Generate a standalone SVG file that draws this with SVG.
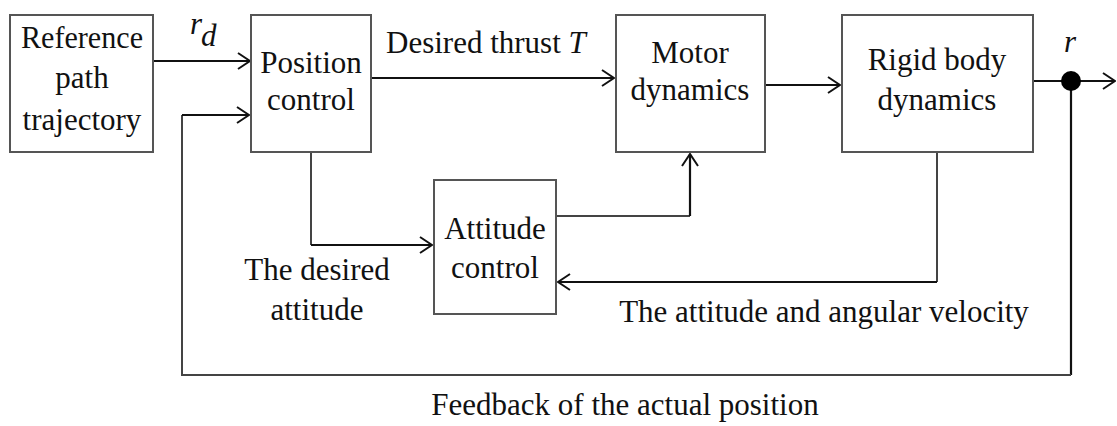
<svg xmlns="http://www.w3.org/2000/svg" width="1117" height="426" viewBox="0 0 1117 426">
<defs>
<style>
.box{fill:#fff;stroke:#555;stroke-width:2}
.t{font-family:"Liberation Serif",serif;font-size:31px;fill:#111;text-anchor:middle}
.l{font-family:"Liberation Serif",serif;font-size:31px;fill:#111}
.c{fill:none;stroke:#111;stroke-width:2.2}
.g{fill:none;stroke:#444;stroke-width:2}
</style>
<marker id="ah" viewBox="0 0 14 18" refX="13" refY="9" markerWidth="14" markerHeight="18" markerUnits="userSpaceOnUse" orient="auto">
<path d="M1,1 L13,9 L1,17" fill="none" stroke="#111" stroke-width="2"/>
</marker>
</defs>
<rect width="1117" height="426" fill="#fff"/>
<g id="connectors">
<path class="c" d="M153,61 H250" marker-end="url(#ah)"/>
<path class="c" d="M371,78 H614" marker-end="url(#ah)"/>
<path class="c" d="M765,85 H840" marker-end="url(#ah)"/>
<path class="c" d="M1033,81 H1115" marker-end="url(#ah)"/>
<path class="g" d="M311,152 V245"/>
<path class="c" d="M311,245 H432" marker-end="url(#ah)"/>
<path class="g" d="M556,216 H690"/>
<path class="c" d="M690,216 V154" marker-end="url(#ah)"/>
<path class="g" d="M937,152 V282"/>
<path class="c" d="M937,282 H558" marker-end="url(#ah)"/>
<path class="c" d="M1071,81 V375"/>
<path class="g" d="M1071,375 H182 V115"/>
<path class="c" d="M182,115 H249" marker-end="url(#ah)"/>
<circle cx="1071" cy="81" r="10" fill="#000"/>
<text class="l" x="190" y="34" font-style="italic">r</text>
<text class="l" x="201" y="46" font-style="italic" font-size="24">d</text>
<text class="l" x="386" y="53">Desired thrust <tspan font-style="italic">T</tspan></text>
<text class="l" x="1064" y="52" font-style="italic">r</text>
<text class="t" x="317" y="280">The desired</text>
<text class="t" x="317" y="320">attitude</text>
<text class="t" x="824" y="322">The attitude and angular velocity</text>
<text class="t" x="625" y="415">Feedback of the actual position</text>
</g>
<g id="ref">
<rect class="box" x="10" y="15" width="143" height="137"/>
<text class="t" x="82" y="48" textLength="122" lengthAdjust="spacingAndGlyphs">Reference</text>
<text class="t" x="82" y="88">path</text>
<text class="t" x="82" y="130">trajectory</text>
</g>
<g id="pos">
<rect class="box" x="251" y="15" width="120" height="137"/>
<text class="t" x="311" y="73">Position</text>
<text class="t" x="311" y="110">control</text>
</g>
<g id="motor">
<rect class="box" x="616" y="15" width="149" height="137"/>
<text class="t" x="690" y="63">Motor</text>
<text class="t" x="690" y="100">dynamics</text>
</g>
<g id="rigid">
<rect class="box" x="842" y="15" width="191" height="137"/>
<text class="t" x="937" y="70">Rigid body</text>
<text class="t" x="937" y="110">dynamics</text>
</g>
<g id="att">
<rect class="box" x="434" y="180" width="122" height="134"/>
<text class="t" x="495" y="239">Attitude</text>
<text class="t" x="495" y="278">control</text>
</g>
</svg>
